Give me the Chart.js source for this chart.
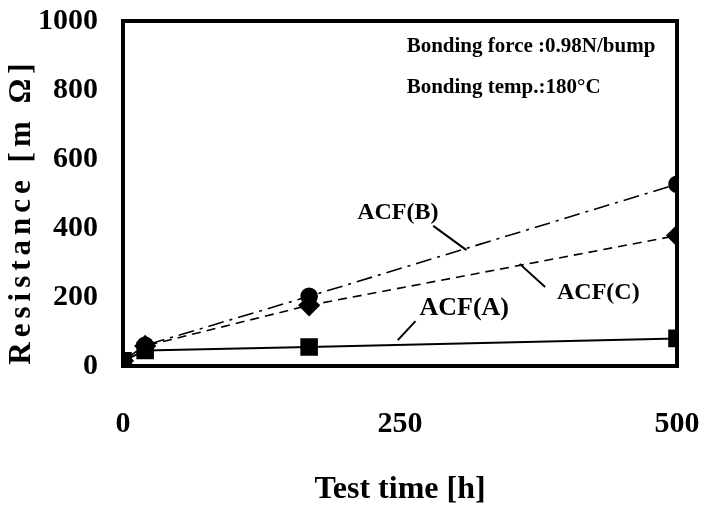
<!DOCTYPE html>
<html>
<head>
<meta charset="utf-8">
<script src="https://cdn.jsdelivr.net/npm/chart.js@4/dist/chart.umd.min.js"></script>
<style>
html,body{margin:0;padding:0;background:#fff;}
#wrap{width:706px;height:506px;}
</style>
</head>
<body>
<div id="wrap"><canvas id="c" width="706" height="506"></canvas></div>
<script>
const testTime = [0, 20, 168, 500];
const acfA = [15, 45, 55, 80];
const acfB = [15, 60, 202, 527];
const acfC = [15, 58, 176, 378];
const yTicks = [0, 200, 400, 600, 800, 1000];
const xTicks = [0, 250, 500];
const seriesNames = ['ACF(A)', 'ACF(B)', 'ACF(C)'];
const noteLines = ['Bonding force :0.98N/bump', 'Bonding temp.:180\u00B0C'];

const serif = '"Liberation Serif", "Times New Roman", serif';

function pts(vals){ return testTime.map((t,i)=>({x:t,y:vals[i]})); }

const annot = {
  id:'annot',
  afterDatasetsDraw(chart){
    const ctx = chart.ctx, xs = chart.scales.x, ys = chart.scales.y;
    const X = v=>xs.getPixelForValue(v), Y = v=>ys.getPixelForValue(v);
    const a = chart.chartArea;
    ctx.save();
    ctx.strokeStyle = '#000'; ctx.lineWidth = 4;
    ctx.strokeRect(a.left, a.top, a.right - a.left, a.bottom - a.top);
    ctx.fillStyle = '#000';
    ctx.textBaseline = 'middle'; ctx.textAlign = 'left';
    ctx.font = 'bold 21px ' + serif;
    ctx.fillText(noteLines[0], X(256), Y(925));
    ctx.fillText(noteLines[1], X(256), Y(806));
    ctx.textAlign = 'center';
    ctx.font = 'bold 24px ' + serif;
    ctx.fillText(seriesNames[1], X(248), Y(443));
    ctx.fillText(seriesNames[2], X(429), Y(212));
    ctx.font = 'bold 26px ' + serif;
    ctx.fillText(seriesNames[0], X(308), Y(168));
    ctx.lineWidth = 2;
    const seg = (x1,y1,x2,y2)=>{ctx.beginPath();ctx.moveTo(X(x1),Y(y1));ctx.lineTo(X(x2),Y(y2));ctx.stroke();};
    seg(280,406,310,336);
    seg(381,229,358,296);
    seg(264,130,248,75);
    ctx.save();
    ctx.translate(22, (a.top + a.bottom)/2 + 18);
    ctx.rotate(-Math.PI/2);
    ctx.font = 'bold 31px ' + serif;
    try { ctx.letterSpacing = '5px'; } catch(e){}
    ctx.textAlign = 'center'; ctx.textBaseline = 'middle';
    ctx.fillText('Resistance [m \u03A9]', 0, 0);
    ctx.restore();
    ctx.restore();
  }
};

new Chart(document.getElementById('c'), {
  type: 'line',
  data: {
    datasets: [
      {label: seriesNames[0], data: pts(acfA), borderColor:'#000', backgroundColor:'#000',
       borderWidth:2, pointStyle:'rect', pointRadius:11, pointHoverRadius:11, tension:0},
      {label: seriesNames[1], data: pts(acfB), borderColor:'#000', backgroundColor:'#000',
       borderWidth:1.6, borderDash:[16,6,3,6], pointStyle:'circle', pointRadius:8, pointHoverRadius:8, tension:0},
      {label: seriesNames[2], data: pts(acfC), borderColor:'#000', backgroundColor:'#000',
       borderWidth:1.6, borderDash:[9,6], pointStyle:'rectRot', pointRadius:10, pointHoverRadius:10, tension:0}
    ]
  },
  options: {
    responsive:false, animation:false,
    layout:{padding:{top:21, right:29, left:0, bottom:0}},
    plugins:{legend:{display:false}, tooltip:{enabled:false}},
    scales:{
      x:{type:'linear', min:0, max:500,
         afterBuildTicks(s){ s.ticks = xTicks.map(v=>({value:v})); },
         afterFit(s){ s.height = 140; s.paddingLeft = 0; s.paddingRight = 0; },
         grid:{display:false, drawTicks:false},
         border:{display:false},
         ticks:{padding:40, color:'#000', font:{family:serif, size:30, weight:'bold'},
                callback:v=>String(v)},
         title:{display:true, text:'Test time [h]', color:'#000', padding:{top:0,bottom:-3},
                font:{family:serif, size:32, weight:'bold'}}},
      y:{type:'linear', min:0, max:1000,
         afterBuildTicks(s){ s.ticks = yTicks.map(v=>({value:v})); },
         afterFit(s){ s.width = 123; s.paddingTop = 0; s.paddingBottom = 0; },
         grid:{display:false, drawTicks:false},
         border:{display:false},
         ticks:{padding:25, color:'#000', font:{family:serif, size:30, weight:'bold'},
                callback:v=>String(v)}}
    }
  },
  plugins:[annot]
});
</script>
</body>
</html>
